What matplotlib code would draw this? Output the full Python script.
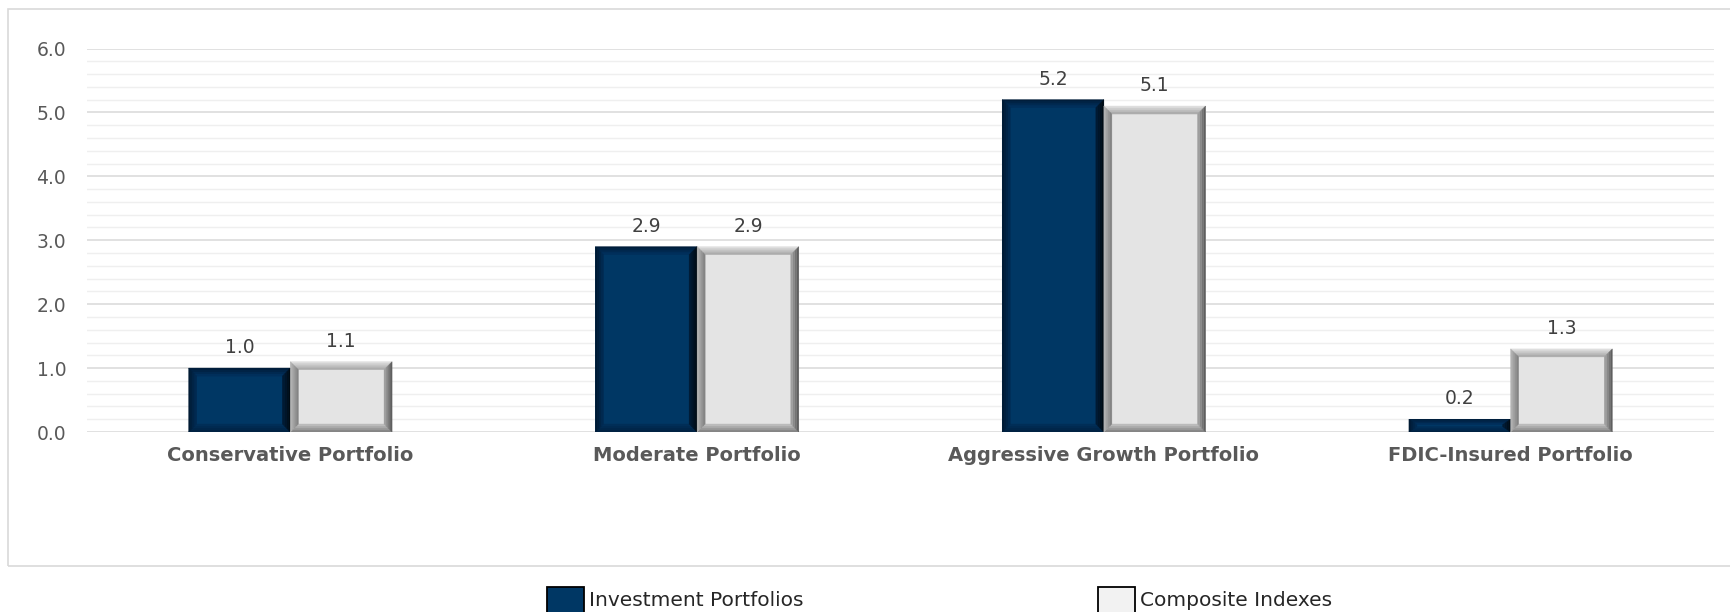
import matplotlib
matplotlib.use("Agg")
import matplotlib.pyplot as plt
from matplotlib.patches import Polygon, Rectangle
from matplotlib.colors import to_rgb
import numpy as np

# ---- data ----
categories = ["Conservative Portfolio", "Moderate Portfolio",
              "Aggressive Growth Portfolio", "FDIC-Insured Portfolio"]
investment = [1.0, 2.9, 5.2, 0.2]
composite = [1.1, 2.9, 5.1, 1.3]
series_names = ["Investment Portfolios", "Composite Indexes"]
yticks = [0.0, 1.0, 2.0, 3.0, 4.0, 5.0, 6.0]

W, H, DPI = 1730, 612, 100
fig = plt.figure(figsize=(W / DPI, H / DPI), dpi=DPI)
fig.patch.set_facecolor("white")

# chart frame
frame = Rectangle((8 / W, 1 - 566 / H), 1.2, (566 - 9) / H, transform=fig.transFigure,
                  facecolor="none", edgecolor="#d9d9d9", linewidth=1.2, zorder=0)
fig.add_artist(frame)

ax_l, ax_r, ax_t, ax_b = 87, 1714, 48.5, 432
ax = fig.add_axes([ax_l / W, 1 - ax_b / H, (ax_r - ax_l) / W, (ax_b - ax_t) / H])
ax.set_xlim(-0.5, len(categories) - 0.5)
ax.set_ylim(0, 6)
for s in ax.spines.values():
    s.set_visible(False)

main_font = "DejaVu Sans"

# gridlines
ax.set_yticks(yticks)
ax.set_yticks(np.arange(0, 6.01, 0.2), minor=True)
ax.grid(axis="y", which="major", color="#d9d9d9", linewidth=1.1, zorder=0)
ax.grid(axis="y", which="minor", color="#efefef", linewidth=1.0, zorder=0)
ax.set_axisbelow(True)
ax.tick_params(axis="y", which="both", length=0, pad=15, labelsize=13.5,
               labelcolor="#595959")
ax.set_yticklabels([f"{v:.1f}" for v in yticks], family=main_font)
ax.set_xticks(range(len(categories)))
ax.set_xticklabels(categories, family=main_font, fontweight="bold",
                   fontsize=14, color="#595959")
ax.tick_params(axis="x", length=0, pad=10)

px_x = (len(categories)) / (ax_r - ax_l)
px_y = 6.0 / (ax_b - ax_t)

navy_fill = "#003764"
navy_sides = {  # outer -> inner
    "top": ("#001a35", "#003260"),
    "left": ("#00172e", "#002c55"),
    "right": ("#00080f", "#001d38"),
    "bottom": ("#00203f", "#00305a"),
}
gray_fill = "#e4e4e4"
gray_sides = {
    "top": ("#e6e6e6", "#a4a4a4"),
    "left": ("#b8b8b8", "#7c7c7c"),
    "right": ("#555555", "#a8a8a8"),
    "bottom": ("#7c7c7c", "#c4c4c4"),
}


def mix(c1, c2, t):
    a, b = np.array(to_rgb(c1)), np.array(to_rgb(c2))
    return tuple(a + (b - a) * t)


def bevel(x0, w, h, sides, bevel_px=8, bands=4):
    bx = bevel_px * px_x
    by = min(bevel_px * px_y, h * 0.42)
    for k in range(bands):
        t0, t1 = k / bands, (k + 1) / bands
        col_t = (k + 0.5) / bands
        ox0, ox1 = x0 + bx * t0, x0 + w - bx * t0
        oy0, oy1 = by * t0, h - by * t0
        ix0, ix1 = x0 + bx * t1, x0 + w - bx * t1
        iy0, iy1 = by * t1, h - by * t1
        polys = {
            "top": [(ox0, oy1), (ox1, oy1), (ix1, iy1), (ix0, iy1)],
            "bottom": [(ox0, oy0), (ox1, oy0), (ix1, iy0), (ix0, iy0)],
            "left": [(ox0, oy0), (ox0, oy1), (ix0, iy1), (ix0, iy0)],
            "right": [(ox1, oy0), (ox1, oy1), (ix1, iy1), (ix1, iy0)],
        }
        for side, pts in polys.items():
            c = mix(sides[side][0], sides[side][1], col_t)
            ax.add_patch(Polygon(pts, closed=True, facecolor=c, edgecolor=c,
                                 linewidth=0.3, zorder=3))


bw = 0.25
x = np.arange(len(categories))
bars_inv = ax.bar(x - bw / 2, investment, width=bw, color=navy_fill,
                  edgecolor="none", zorder=2, label=series_names[0])
bars_cmp = ax.bar(x + bw / 2, composite, width=bw, color=gray_fill,
                  edgecolor="none", zorder=2, label=series_names[1])
for b in bars_inv:
    bevel(b.get_x(), b.get_width(), b.get_height(), navy_sides)
for b in bars_cmp:
    bevel(b.get_x(), b.get_width(), b.get_height(), gray_sides)

# value labels
for bars in (bars_inv, bars_cmp):
    for b in bars:
        ax.annotate(f"{b.get_height():.1f}", (b.get_x() + b.get_width() / 2, b.get_height()),
                    xytext=(0, 8), textcoords="offset points", ha="center", va="bottom",
                    fontsize=13.5, color="#404040", family=main_font)

# legend at the bottom
legend_items = [(547, navy_fill, series_names[0]), (1098, "#f2f2f2", series_names[1])]
for x_px, col, name in legend_items:
    fig.add_artist(Rectangle((x_px / W, -0.02), 37 / W, (612 - 587) / H + 0.02,
                             transform=fig.transFigure, facecolor=col,
                             edgecolor="black", linewidth=1.3))
    fig.text((x_px + 42) / W, 1 - 600 / H, name, fontsize=14.5, family=main_font,
             color="#262626", va="center", ha="left")

fig.savefig("out.png", dpi=DPI)
